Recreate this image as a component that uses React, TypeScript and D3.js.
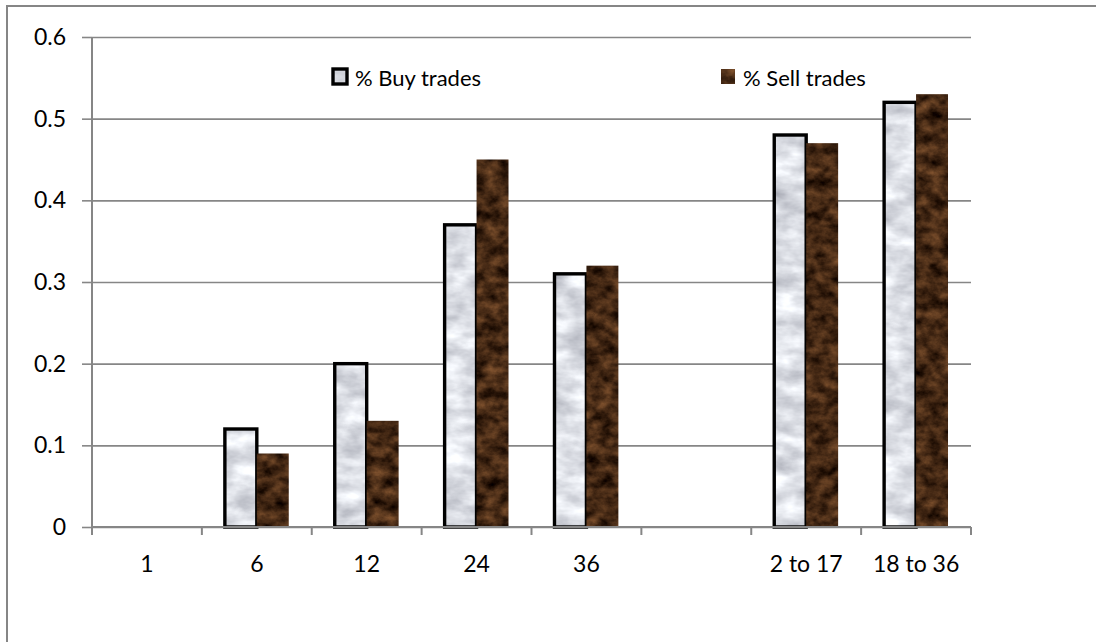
import { useEffect, useRef } from 'react'
import * as d3 from 'd3'

const CATEGORIES = ['1', '6', '12', '24', '36', '', '2 to 17', '18 to 36']
const BUY = [null, 0.12, 0.2, 0.37, 0.31, null, 0.48, 0.52]
const SELL = [null, 0.09, 0.13, 0.45, 0.32, null, 0.47, 0.53]
const Y_TICKS = [0, 0.1, 0.2, 0.3, 0.4, 0.5, 0.6]
const SERIES = ['% Buy trades', '% Sell trades']

const W = 1096
const H = 642
const PLOT = { left: 92, right: 971, top: 37, bottom: 527 }
const AXIS = '#868686'
const FONT = 'Lato, "Noto Sans", sans-serif'

export default function App() {
  const svgRef = useRef<SVGSVGElement>(null)

  useEffect(() => {
    const svg = d3.select(svgRef.current)
    svg.selectAll('*').remove()

    const defs = svg.append('defs')

    // marble-ish textures made of noise, clipped to each bar
    const texture = (id: string, seed: number, freq: string, rows: string) => {
      const f = defs.append('filter').attr('id', id)
        .attr('x', 0).attr('y', 0).attr('width', 1).attr('height', 1)
        .attr('color-interpolation-filters', 'sRGB')
      f.append('feTurbulence').attr('type', 'fractalNoise')
        .attr('baseFrequency', freq).attr('numOctaves', 4).attr('seed', seed).attr('result', 'n')
      f.append('feColorMatrix').attr('in', 'n').attr('type', 'matrix').attr('values', rows).attr('result', 'c')
      f.append('feComposite').attr('in', 'c').attr('in2', 'SourceGraphic').attr('operator', 'in')
    }
    texture('marble', 3, '0.03 0.06',
      '0.45 0 0 0 0.64  0.45 0 0 0 0.65  0.42 0 0 0 0.69  0 0 0 0 1')
    texture('wood', 7, '0.07 0.09',
      '0.6 0 0 0 -0.03  0.42 0 0 0 -0.05  0.26 0 0 0 -0.05  0 0 0 0 1')

    // chart frame (only top/left edges are on screen)
    svg.append('rect')
      .attr('x', 7).attr('y', 6).attr('width', W + 20).attr('height', H + 20)
      .attr('fill', '#fff').attr('stroke', AXIS).attr('stroke-width', 2)

    const x = d3.scaleBand(CATEGORIES, [PLOT.left, PLOT.right])
    const x1 = d3.scaleBand([0, 1], [0, x.bandwidth()]).paddingOuter(0.72)
    const y = d3.scaleLinear([0, 0.6], [PLOT.bottom, PLOT.top])

    // ── Grid + y axis ─────────────────────────────────────────────────
    svg.append('g')
      .attr('transform', `translate(${PLOT.left},0)`)
      .call(d3.axisLeft(y).tickValues(Y_TICKS).tickSize(-(PLOT.right - PLOT.left)).tickFormat(() => ''))
      .call(g => g.select('.domain').remove())
      .call(g => g.selectAll('.tick line').attr('stroke', AXIS).attr('stroke-width', 1.6))

    svg.append('g')
      .attr('transform', `translate(${PLOT.left},0)`)
      .call(d3.axisLeft(y).tickValues(Y_TICKS).tickSize(10).tickPadding(16).tickFormat(d3.format('')))
      .call(g => g.select('.domain').attr('d', `M0,${PLOT.top}V${PLOT.bottom + 8}`)
        .attr('stroke', AXIS).attr('stroke-width', 2))
      .call(g => g.selectAll('.tick line').attr('stroke', AXIS).attr('stroke-width', 1.6))
      .call(g => g.selectAll('text').attr('font-family', FONT).attr('font-size', 23).attr('fill', '#000'))

    // ── Bars ─────────────────────────────────────────────────────────
    const bars = svg.append('g')
    ;[BUY, SELL].forEach((vals, si) => {
      vals.forEach((v, i) => {
        if (v == null) return
        const bx = x(CATEGORIES[i])! + x1(si)!
        const by = y(v)
        const bh = y(0) - by
        bars.append('rect')
          .attr('x', bx).attr('y', by).attr('width', x1.bandwidth()).attr('height', bh)
          .attr('fill', '#000').attr('filter', `url(#${si === 0 ? 'marble' : 'wood'})`)
        if (si === 0) {
          bars.append('rect')
            .attr('x', bx).attr('y', by).attr('width', x1.bandwidth()).attr('height', bh)
            .attr('fill', 'none').attr('stroke', '#000').attr('stroke-width', 3.4)
        }
      })
    })

    // ── X axis ───────────────────────────────────────────────────────
    const xg = svg.append('g')
    xg.append('line')
      .attr('x1', PLOT.left).attr('x2', PLOT.right)
      .attr('y1', PLOT.bottom).attr('y2', PLOT.bottom)
      .attr('stroke', AXIS).attr('stroke-width', 2)
    ;[...CATEGORIES.map(c => x(c)!), PLOT.right].forEach(tx => {
      xg.append('line')
        .attr('x1', tx).attr('x2', tx).attr('y1', PLOT.bottom).attr('y2', PLOT.bottom + 8)
        .attr('stroke', AXIS).attr('stroke-width', 2)
    })
    CATEGORIES.forEach(c => {
      xg.append('text')
        .attr('x', x(c)! + x.bandwidth() / 2).attr('y', 572)
        .attr('text-anchor', 'middle').attr('font-family', FONT).attr('font-size', 23)
        .text(c)
    })

    // ── Legend ───────────────────────────────────────────────────────
    const legend = svg.append('g').attr('font-family', FONT).attr('font-size', 22)
    const lx = [333, 721]
    SERIES.forEach((s, i) => {
      legend.append('rect')
        .attr('x', lx[i]).attr('y', 69).attr('width', 14).attr('height', 15)
        .attr('fill', '#000').attr('filter', `url(#${i === 0 ? 'marble' : 'wood'})`)
      if (i === 0) {
        legend.append('rect')
          .attr('x', lx[i]).attr('y', 69).attr('width', 14).attr('height', 15)
          .attr('fill', 'none').attr('stroke', '#000').attr('stroke-width', 3.4)
      }
      legend.append('text')
        .attr('x', lx[i] + 22).attr('y', 86)
        .text(s)
    })
  }, [])

  return (
    <svg ref={svgRef} width={W} height={H}
      style={{ position: 'absolute', left: 0, top: 0, background: '#fff' }} />
  )
}
